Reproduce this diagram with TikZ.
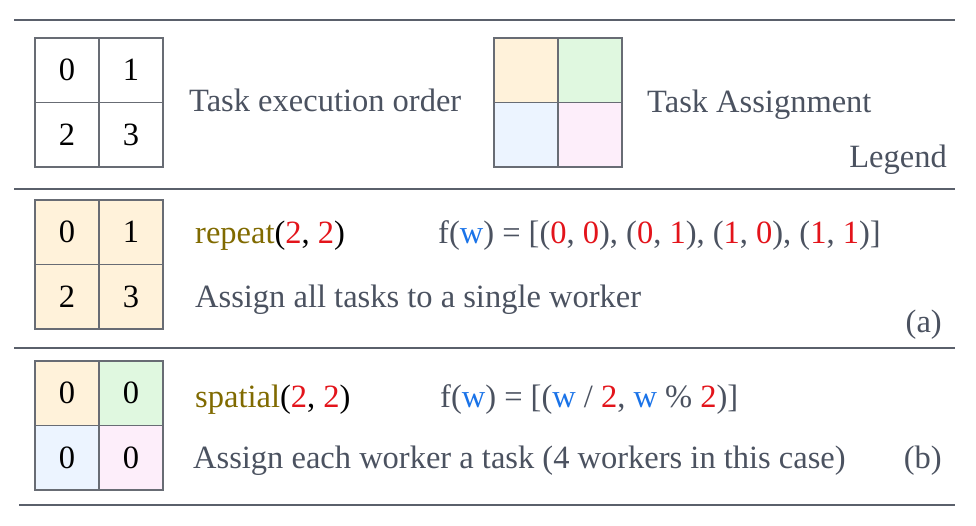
\documentclass[tikz,border=0pt]{standalone}
\usepackage{fontspec}
\setmainfont{Liberation Serif}
\definecolor{txt}{HTML}{4B5260}
\definecolor{rulec}{HTML}{5A606B}
\definecolor{gridc}{HTML}{686C74}
\definecolor{cOr}{HTML}{FFF2DA}
\definecolor{cGr}{HTML}{E0F8E0}
\definecolor{cBl}{HTML}{ECF4FF}
\definecolor{cPk}{HTML}{FDEEFA}
\definecolor{fnc}{HTML}{806A00}
\definecolor{num}{HTML}{E3141B}
\definecolor{var}{HTML}{1A73E8}
\newcommand\lblfont{\fontsize{32.5}{36}\selectfont}
\newcommand\R[1]{\textcolor{num}{#1}}
\newcommand\V[1]{\textcolor{var}{#1}}
\begin{document}
\begin{tikzpicture}[x=1pt,y=-1pt,
  cell/.style={draw=gridc,line width=1.2pt,minimum width=64pt,minimum height=64.5pt,inner sep=0pt,font=\lblfont,text=black},
  lbl/.style={anchor=base west,inner sep=0pt,text=txt,font=\lblfont},
  sepline/.style={draw=rulec,line width=1.5pt}]
\useasboundingbox (0,0) rectangle (976,526);
% separators
\draw[sepline] (14,20) -- (955,20);
\draw[sepline] (14,189) -- (955,189);
\draw[sepline] (14,348) -- (955,348);
\draw[sepline] (19,505) -- (955,505);
% legend: execution order
\node[cell] (e0) at (67,70.25) {0};
\node[cell] (e1) at (131,70.25) {1};
\node[cell] (e2) at (67,134.75) {2};
\node[cell] (e3) at (131,134.75) {3};
\node[lbl] (eorder) at (189,112) {Task execution order};
% legend: assignment
\node[cell,fill=cOr] (g0) at (526,70.25) {};
\node[cell,fill=cGr] (g1) at (590,70.25) {};
\node[cell,fill=cBl] (g2) at (526,134.75) {};
\node[cell,fill=cPk] (g3) at (590,134.75) {};
\node[lbl] (gassign) at (647,113) {Task Assignment};
\node[lbl,anchor=base east] (legend) at (947,168) {Legend};
% (a)
\node[cell,fill=cOr] (a0) at (67,232.25) {0};
\node[cell,fill=cOr] (a1) at (131,232.25) {1};
\node[cell,fill=cOr] (a2) at (67,296.75) {2};
\node[cell,fill=cOr] (a3) at (131,296.75) {3};
\node[lbl] (arep) at (195,244) {\textcolor{fnc}{repeat}\textcolor{black}{(\R{2}, \R{2})}};
\node[lbl] (afw) at (438,244) {f(\V{w}) = [(\R{0}, \R{0}), (\R{0}, \R{1}), (\R{1}, \R{0}), (\R{1}, \R{1})]};
\node[lbl] (adesc) at (195,307) {Assign all tasks to a single worker};
\node[lbl,anchor=base east] (alab) at (942,332) {(a)};
% (b)
\node[cell,fill=cOr] (b0) at (67,393.25) {0};
\node[cell,fill=cGr] (b1) at (131,393.25) {0};
\node[cell,fill=cBl] (b2) at (67,457.75) {0};
\node[cell,fill=cPk] (b3) at (131,457.75) {0};
\node[lbl] (bsp) at (195,407) {\textcolor{fnc}{spatial}\textcolor{black}{(\R{2}, \R{2})}};
\node[lbl] (bfw) at (440,407) {f(\V{w}) = [(\V{w} / \R{2}, \V{w} \% \R{2})]};
\node[lbl] (bdesc) at (193,468) {Assign each worker a task (4 workers in this case)};
\node[lbl,anchor=base east] (blab) at (942,468) {(b)};
\end{tikzpicture}
\end{document}
